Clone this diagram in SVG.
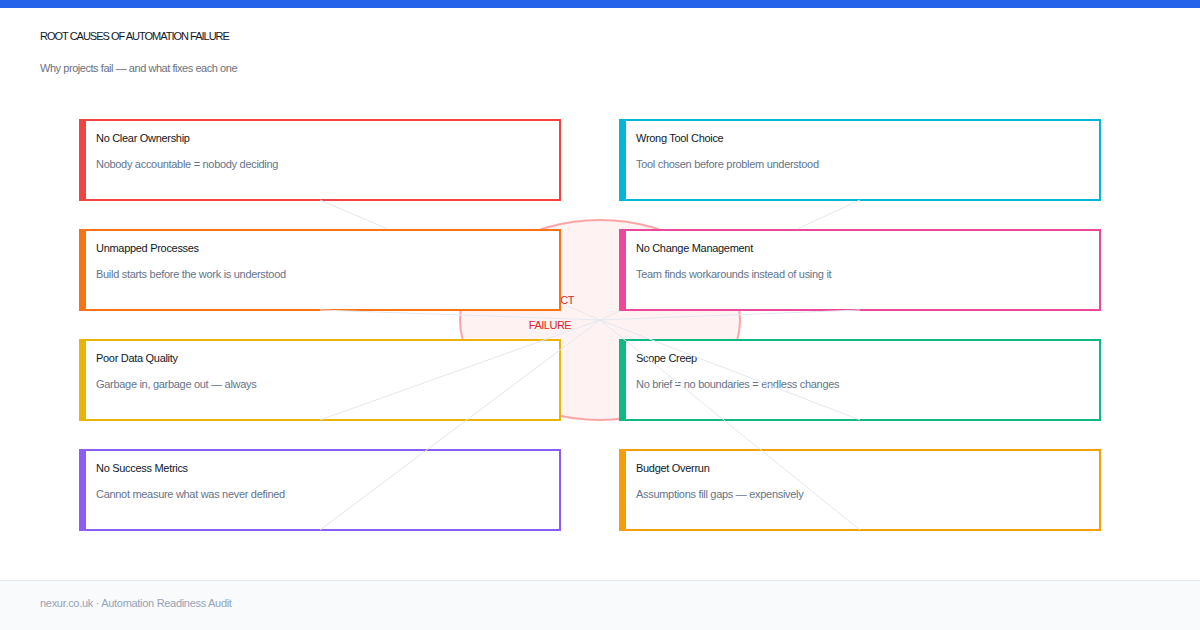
<svg xmlns="http://www.w3.org/2000/svg" width="1200" height="630" viewBox="0 0 1200 630">
<style>
.t{font-family:"Liberation Sans",Arial,sans-serif;font-size:11px;letter-spacing:-0.3px}
.h{fill:#111827}
.d{fill:#64748b}
.box{fill:#ffffff;stroke-width:2}
.conn{stroke:#e2e8f0;stroke-width:1;fill:none}
</style>
<rect x="0" y="0" width="1200" height="630" fill="#ffffff"/>
<rect x="0" y="0" width="1200" height="8" fill="#2563eb"/>
<text class="t h" x="40" y="40" style="letter-spacing:-1px">ROOT CAUSES OF AUTOMATION FAILURE</text>
<text class="t" x="40" y="72" fill="#6b7280" style="letter-spacing:-0.45px">Why projects fail — and what fixes each one</text>

<g id="center">
<ellipse cx="600" cy="320" rx="140" ry="100" fill="#fef2f2" stroke="#fca5a5" stroke-width="2"/>
<text class="t" x="550" y="304" text-anchor="middle" fill="#dc2626" style="letter-spacing:-0.5px">PROJECT</text>
<text class="t" x="550" y="329" text-anchor="middle" fill="#dc2626" style="letter-spacing:-0.5px">FAILURE</text>
</g>

<g id="node-ownership">
<rect class="box" x="80" y="120" width="480" height="80" stroke="#ef4444"/>
<rect x="79" y="119" width="7" height="82" fill="#ef4444"/>
<text class="t h" x="96" y="142">No Clear Ownership</text>
<text class="t d" x="96" y="168">Nobody accountable = nobody deciding</text>
</g>
<g id="node-unmapped">
<rect class="box" x="80" y="230" width="480" height="80" stroke="#f97316"/>
<rect x="79" y="229" width="7" height="82" fill="#f97316"/>
<text class="t h" x="96" y="252">Unmapped Processes</text>
<text class="t d" x="96" y="278">Build starts before the work is understood</text>
</g>
<g id="node-data">
<rect class="box" x="80" y="340" width="480" height="80" stroke="#eab308"/>
<rect x="79" y="339" width="7" height="82" fill="#eab308"/>
<text class="t h" x="96" y="362">Poor Data Quality</text>
<text class="t d" x="96" y="388">Garbage in, garbage out — always</text>
</g>
<g id="node-metrics">
<rect class="box" x="80" y="450" width="480" height="80" stroke="#8b5cf6"/>
<rect x="79" y="449" width="7" height="82" fill="#8b5cf6"/>
<text class="t h" x="96" y="472">No Success Metrics</text>
<text class="t d" x="96" y="498">Cannot measure what was never defined</text>
</g>
<g id="node-tool">
<rect class="box" x="620" y="120" width="480" height="80" stroke="#06b6d4"/>
<rect x="619" y="119" width="7" height="82" fill="#06b6d4"/>
<text class="t h" x="636" y="142">Wrong Tool Choice</text>
<text class="t d" x="636" y="168">Tool chosen before problem understood</text>
</g>
<g id="node-change">
<rect class="box" x="620" y="230" width="480" height="80" stroke="#ec4899"/>
<rect x="619" y="229" width="7" height="82" fill="#ec4899"/>
<text class="t h" x="636" y="252">No Change Management</text>
<text class="t d" x="636" y="278">Team finds workarounds instead of using it</text>
</g>
<g id="node-scope">
<rect class="box" x="620" y="340" width="480" height="80" stroke="#10b981"/>
<rect x="619" y="339" width="7" height="82" fill="#10b981"/>
<text class="t h" x="636" y="362">Scope Creep</text>
<text class="t d" x="636" y="388">No brief = no boundaries = endless changes</text>
</g>
<g id="node-budget">
<rect class="box" x="620" y="450" width="480" height="80" stroke="#f59e0b"/>
<rect x="619" y="449" width="7" height="82" fill="#f59e0b"/>
<text class="t h" x="636" y="472">Budget Overrun</text>
<text class="t d" x="636" y="498">Assumptions fill gaps — expensively</text>
</g>

<g id="connectors">
<path class="conn" d="M320,200 L388,229 M561,303.3 L600,320"/>
<path class="conn" d="M320,310 L600,320"/>
<path class="conn" d="M320,420 L600,320"/>
<path class="conn" d="M320,530 L600,320"/>
<path class="conn" d="M860,200 L797.2,229 M619.5,311 L600,320"/>
<path class="conn" d="M860,310 L600,320"/>
<path class="conn" d="M860,420 L600,320"/>
<path class="conn" d="M860,530 L600,320"/>
</g>

<g id="footer">
<rect x="0" y="580" width="1200" height="50" fill="#f8fafc"/>
<line x1="0" y1="580.5" x2="1200" y2="580.5" stroke="#e2e8f0" stroke-width="1"/>
<text class="t" x="40" y="607" fill="#94a3b8">nexur.co.uk · Automation Readiness Audit</text>
</g>
</svg>
